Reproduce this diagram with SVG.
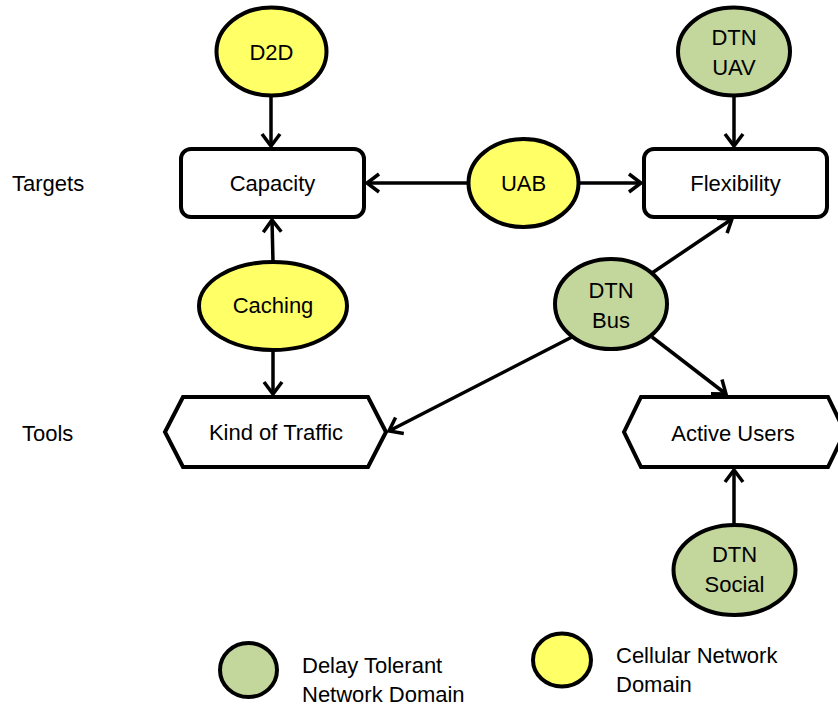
<svg xmlns="http://www.w3.org/2000/svg" width="838" height="708" viewBox="0 0 838 708">
<defs>
<marker id="arr" viewBox="-16 -12 20 24" markerWidth="20" markerHeight="24" refX="0" refY="0" orient="auto" markerUnits="userSpaceOnUse">
<path d="M-12,-9 L0,0 L-12,9" fill="none" stroke="#000" stroke-width="3.5" stroke-linejoin="miter"/>
</marker>
<style>
.t{font-family:"Liberation Sans",Arial,sans-serif;font-size:22px;fill:#000;text-anchor:middle}
.l{font-family:"Liberation Sans",Arial,sans-serif;font-size:22px;fill:#000}
.y{fill:#FFFF66;stroke:#000;stroke-width:4}
.g{fill:#C3D69B;stroke:#000;stroke-width:4}
.b{fill:#fff;stroke:#000;stroke-width:4}
.c{stroke:#000;stroke-width:3.5;fill:none;marker-end:url(#arr)}
</style>
</defs>
<rect width="838" height="708" fill="#fff"/>
<text class="l" x="12" y="191">Targets</text>
<text class="l" x="22" y="441">Tools</text>
<g id="connectors">
<line class="c" x1="271" y1="97" x2="271" y2="146"/>
<line class="c" x1="734" y1="97" x2="734" y2="146"/>
<line class="c" x1="468" y1="183" x2="367" y2="183"/>
<line class="c" x1="579" y1="183" x2="641" y2="183"/>
<line class="c" x1="273" y1="262" x2="272" y2="220"/>
<line class="c" x1="273" y1="350" x2="273" y2="394"/>
<line class="c" x1="652" y1="273" x2="732" y2="219"/>
<line class="c" x1="652" y1="337" x2="726" y2="394"/>
<line class="c" x1="572" y1="337" x2="389" y2="431"/>
<line class="c" x1="734" y1="525" x2="734" y2="470"/>
</g>
<g id="d2d"><ellipse class="y" cx="271.5" cy="51.5" rx="55" ry="44"/><text class="t" x="271.5" y="60">D2D</text></g>
<g id="dtnuav"><ellipse class="g" cx="734" cy="51.5" rx="56" ry="44"/><text class="t" x="734" y="45">DTN</text><text class="t" x="734" y="75">UAV</text></g>
<g id="capacity"><rect class="b" x="181" y="149" width="183" height="68" rx="10"/><text class="t" x="272.5" y="191">Capacity</text></g>
<g id="flexibility"><rect class="b" x="644" y="149" width="183" height="68" rx="10"/><text class="t" x="735.5" y="191">Flexibility</text></g>
<g id="uab"><ellipse class="y" cx="523.5" cy="183" rx="55" ry="44"/><text class="t" x="523.5" y="191">UAB</text></g>
<g id="caching"><ellipse class="y" cx="273" cy="306" rx="74" ry="44"/><text class="t" x="273" y="313">Caching</text></g>
<g id="dtnbus"><ellipse class="g" cx="611" cy="304" rx="56" ry="45"/><text class="t" x="611" y="298">DTN</text><text class="t" x="611" y="328">Bus</text></g>
<g id="kind"><polygon class="b" points="165,432 183,397 368,397 386,432 368,467 183,467"/><text class="t" x="276" y="440">Kind of Traffic</text></g>
<g id="active"><polygon class="b" points="624,432 641,397 828,397 845,432 828,467 641,467"/><text class="t" x="733" y="441">Active Users</text></g>
<g id="dtnsocial"><ellipse class="g" cx="734.5" cy="570" rx="61" ry="45"/><text class="t" x="734.5" y="562">DTN</text><text class="t" x="734.5" y="592">Social</text></g>
<g id="legend">
<ellipse class="g" cx="248.5" cy="670" rx="28.5" ry="27"/>
<text class="l" x="302" y="673">Delay Tolerant</text>
<text class="l" x="302" y="702">Network Domain</text>
<ellipse class="y" cx="562" cy="660" rx="29" ry="26.5"/>
<text class="l" x="616" y="663">Cellular Network</text>
<text class="l" x="616" y="692">Domain</text>
</g>
</svg>
